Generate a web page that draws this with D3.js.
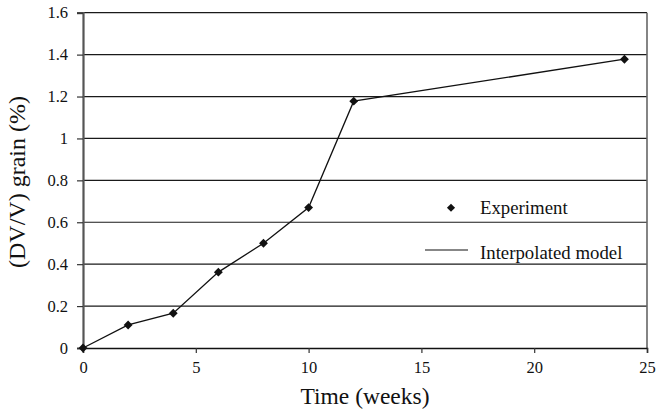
<!DOCTYPE html>
<html>
<head>
<meta charset="utf-8">
<script src="https://cdn.jsdelivr.net/npm/d3@7/dist/d3.min.js"></script>
<style>
  html, body { margin: 0; padding: 0; background: #fff; }
  svg { display: block; }
  text { font-family: "Liberation Serif", "Times New Roman", serif; fill: #111; }
</style>
</head>
<body>
<svg id="chart" width="657" height="416"></svg>
<script>
// Grain volume change over time
const weeks = [0, 2, 4, 6, 8, 10, 12, 24];
const grainStrain = [0, 0.11, 0.166, 0.362, 0.50, 0.67, 1.178, 1.378];
const xTicks = [0, 5, 10, 15, 20, 25];
const yTicks = [0, 0.2, 0.4, 0.6, 0.8, 1, 1.2, 1.4, 1.6];
const legendLabels = ["Experiment", "Interpolated model"];

const svg = d3.select("#chart");
const serif = '"Liberation Serif", "Times New Roman", serif';

const x = d3.scaleLinear().domain([0, 25]).range([83, 647]);
const y = d3.scaleLinear().domain([0, 1.6]).range([348, 12.7]);

// horizontal gridlines
svg.append("g")
  .selectAll("line")
  .data(yTicks.filter(d => d > 0))
  .join("line")
  .attr("x1", x(0)).attr("x2", x(25))
  .attr("y1", d => y(d)).attr("y2", d => y(d))
  .attr("stroke", "#1a1a1a").attr("stroke-width", 1.2);

// right frame edge
svg.append("line")
  .attr("x1", x(25)).attr("x2", x(25))
  .attr("y1", y(1.6)).attr("y2", y(0))
  .attr("stroke", "#666").attr("stroke-width", 1.6);

// y axis
const yAxis = svg.append("g")
  .attr("transform", `translate(${x(0)},0)`)
  .call(d3.axisLeft(y).tickValues(yTicks).tickSize(6).tickPadding(9)
    .tickFormat(d => d3.format("~g")(d)));
yAxis.attr("font-family", serif);
yAxis.select(".domain").attr("stroke", "#555").attr("stroke-width", 2.2);
yAxis.selectAll(".tick line").attr("stroke", "#333").attr("stroke-width", 1.2);
yAxis.selectAll("text").style("font-size", "16.5px").style("font-family", serif).attr("fill", "#111");

// x axis
const xAxis = svg.append("g")
  .attr("transform", `translate(0,${y(0)})`)
  .call(d3.axisBottom(x).tickValues(xTicks).tickSize(5).tickPadding(8));
xAxis.attr("font-family", serif);
xAxis.select(".domain").attr("stroke", "#111").attr("stroke-width", 1.5);
xAxis.selectAll(".tick line").attr("stroke", "#333").attr("stroke-width", 1.2);
xAxis.selectAll("text").style("font-size", "16.5px").style("font-family", serif).attr("fill", "#111");

// model line
const pts = weeks.map((w, i) => [w, grainStrain[i]]);
svg.append("path")
  .datum(pts)
  .attr("fill", "none")
  .attr("stroke", "#111")
  .attr("stroke-width", 1.3)
  .attr("d", d3.line().x(d => x(d[0])).y(d => y(d[1])));

// experiment markers
const diamond = d3.symbol().type(d3.symbolDiamond2).size(50);
svg.append("g")
  .selectAll("path")
  .data(pts)
  .join("path")
  .attr("transform", d => `translate(${x(d[0])},${y(d[1])})`)
  .attr("d", diamond)
  .attr("fill", "#111");

// legend
const lg = svg.append("g");
lg.append("path")
  .attr("transform", "translate(451,207.7)")
  .attr("d", d3.symbol().type(d3.symbolDiamond2).size(42))
  .attr("fill", "#111");
lg.append("text").attr("x", 480).attr("y", 213.5)
  .style("font-size", "18.8px").text(legendLabels[0]);
lg.append("line")
  .attr("x1", 425).attr("x2", 468).attr("y1", 250).attr("y2", 250)
  .attr("stroke", "#111").attr("stroke-width", 1.2);
lg.append("text").attr("x", 480).attr("y", 259)
  .style("font-size", "18.8px").text(legendLabels[1]);

// axis titles
svg.append("text")
  .attr("x", (x(0) + x(25)) / 2).attr("y", 404)
  .attr("text-anchor", "middle")
  .style("font-size", "23.5px")
  .text("Time (weeks)");

svg.append("text")
  .attr("transform", "translate(25,182) rotate(-90)")
  .attr("text-anchor", "middle")
  .style("font-size", "24px")
  .text("(DV/V) grain (%)");
</script>
</body>
</html>
